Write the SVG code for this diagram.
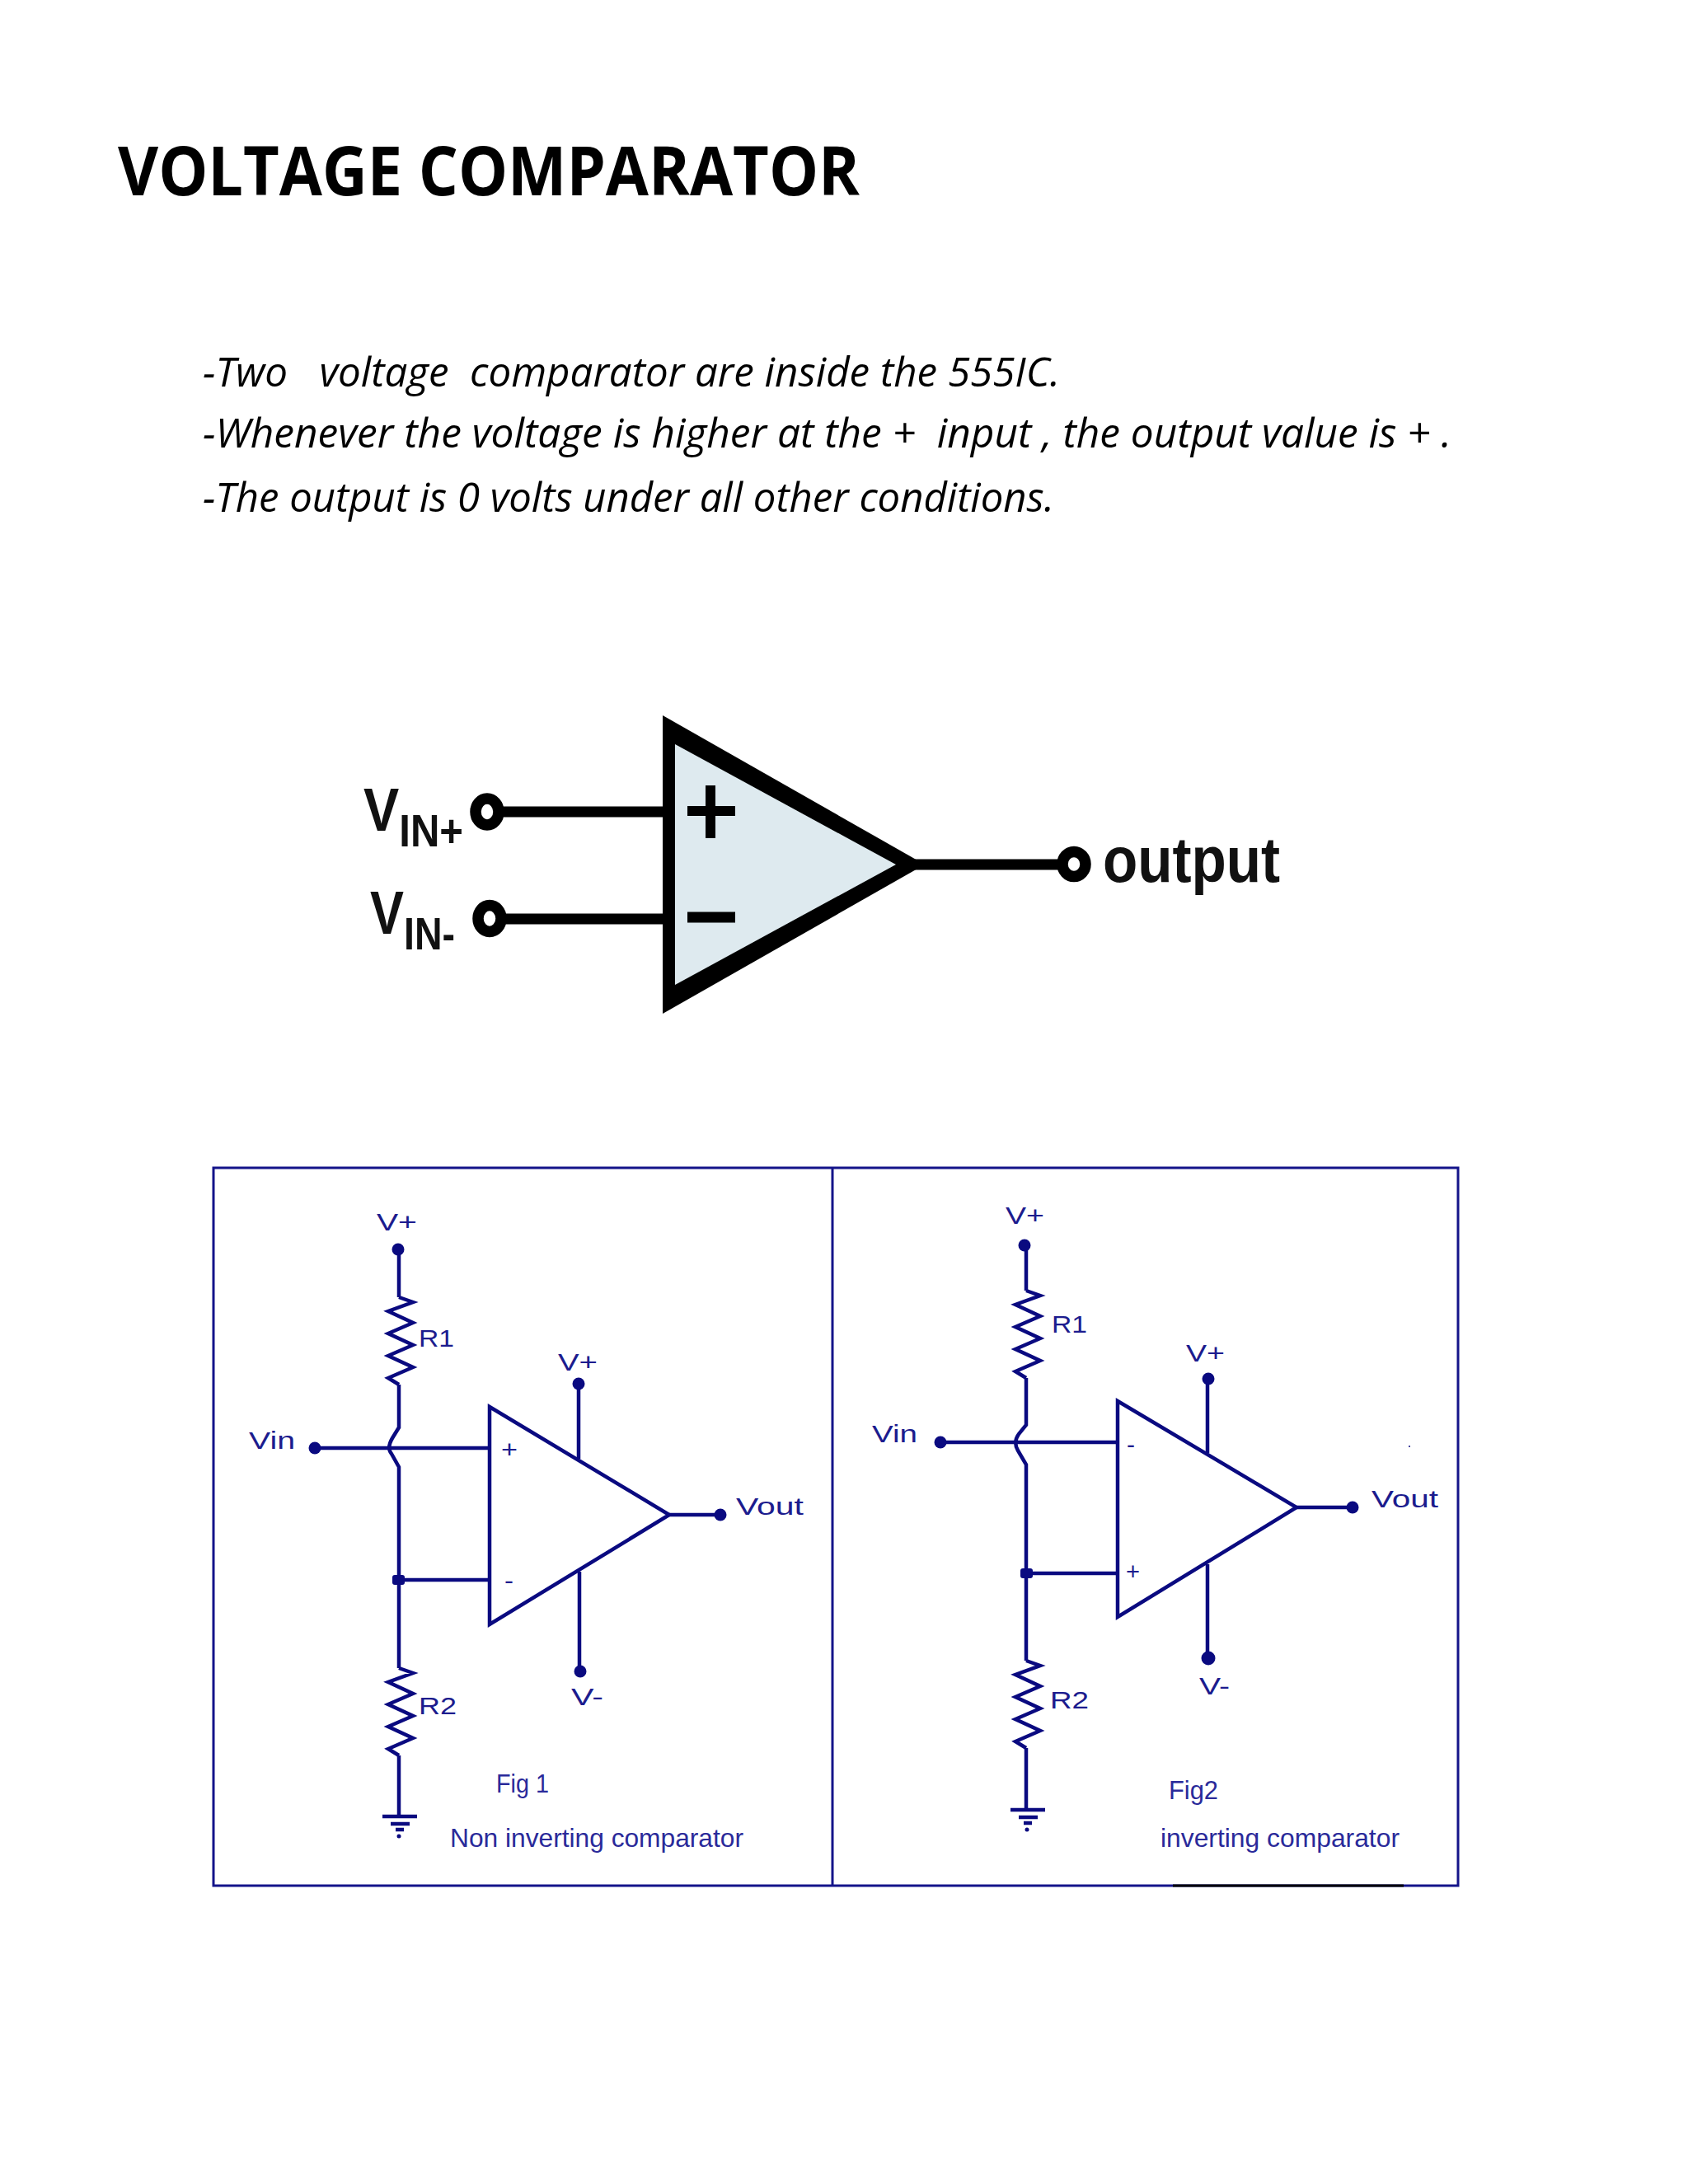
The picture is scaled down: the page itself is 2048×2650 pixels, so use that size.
<svg xmlns="http://www.w3.org/2000/svg" width="2048" height="2650" viewBox="0 0 2048 2650">
<style>
.title{font:700 83px "Open Sans",sans-serif;fill:#000}
.body{font:italic 400 49px "Open Sans",sans-serif;fill:#000;white-space:pre}
.big{font-family:"Liberation Sans",Arial,sans-serif;font-weight:700;fill:#111}
.lab{font:400 29px "Liberation Sans",Arial,sans-serif;fill:#1c1c8e}
.cap{font:400 32px "Liberation Sans",Arial,sans-serif;fill:#2a2a9a}
.w{fill:none;stroke:#0a0a80;stroke-width:4.5;stroke-linejoin:miter}
.t{fill:#fff;stroke:#0a0a80;stroke-width:4.5}
.d{fill:#0a0a80}
.b{fill:none;stroke:#000;stroke-width:13}
.ring{fill:#fff;stroke:#000;stroke-width:13.5}
.frame{fill:none;stroke:#14148a;stroke-width:3}
</style>
<defs>
<path id="res" class="w" d="M0,0 L17,6 L-13,17 L17,31 L-13,44 L17,58 L-13,71 L17,85 L-13,98 L0,106"/>
<g id="gnd"><path class="w" d="M-20,0 H22 M-10,9 H13 M-4,16 H6"/><circle class="d" cx="0" cy="24" r="2.5"/></g>
</defs>
<rect width="2048" height="2650" fill="#fff"/>
<g id="heading">
<text class="title" x="143" y="237" textLength="900" lengthAdjust="spacingAndGlyphs">VOLTAGE COMPARATOR</text>
<text class="body" x="246" y="469" textLength="1040" lengthAdjust="spacingAndGlyphs">-Two   voltage  comparator are inside the 555IC.</text>
<text class="body" x="246" y="543" textLength="1515" lengthAdjust="spacingAndGlyphs">-Whenever the voltage is higher at the +  input , the output value is + .</text>
<text class="body" x="246" y="621" textLength="1033" lengthAdjust="spacingAndGlyphs">-The output is 0 volts under all other conditions.</text>
</g>
<g id="comparator-connectors">
<path class="b" d="M600,985 H806 M604,1115 H806 M1100,1049 H1295"/>
</g>
<g id="comparator">
<polygon points="804,868 1122,1049 804,1230" fill="#000"/>
<polygon points="819,903 1087,1049 819,1195" fill="#deeaef"/>
<path d="M834,984 H892 M862,953 V1017" fill="none" stroke="#000" stroke-width="12"/>
<path d="M834,1113 H892" fill="none" stroke="#000" stroke-width="13"/>
<ellipse class="ring" cx="591" cy="985" rx="14" ry="16"/>
<ellipse class="ring" cx="594" cy="1114.5" rx="14" ry="16"/>
<ellipse class="ring" cx="1303" cy="1048.5" rx="14" ry="15"/>
<text class="big" x="441" y="1008" textLength="121" lengthAdjust="spacingAndGlyphs"><tspan font-size="74">V</tspan><tspan font-size="56" dy="19">IN+</tspan></text>
<text class="big" x="449" y="1133" textLength="103" lengthAdjust="spacingAndGlyphs"><tspan font-size="74">V</tspan><tspan font-size="56" dy="19">IN-</tspan></text>
<text class="big" font-size="77" x="1338" y="1070" textLength="215" lengthAdjust="spacingAndGlyphs">output</text>
</g>
<g id="frame">
<rect class="frame" x="259" y="1417" width="1510" height="871"/>
<path class="frame" d="M1010,1417 V2288"/>
<path d="M1423,2288 H1703" fill="none" stroke="#000" stroke-width="3"/>
</g>
<g id="connectors">
<path class="w" d="M484,1516 V1574 M484,1680 V1732 L476,1745 Q469,1757 475,1764 L484,1780 V2024 M484,2130 V2204"/>
<path class="w" d="M382,1757 H594 M484,1917 H594 M702,1679 V1770 M703,1907 V2028 M812,1838 H874"/>
<path class="w" d="M1245,1511 V1566 M1245,1672 V1729 L1236,1740 Q1229,1750 1235,1760 L1245,1777 V2015 M1245,2121 V2196"/>
<path class="w" d="M1141,1750 H1356 M1245,1909 H1356 M1465,1673 V1763 M1465,1898 V2012 M1573,1829 H1641"/>
</g>
<g id="fig1">
<use href="#res" x="484" y="1574"/>
<use href="#res" x="484" y="2024"/>
<use href="#gnd" x="484" y="2204"/>
<polygon class="t" points="594,1707 812,1838 594,1971"/>
<circle class="d" cx="483" cy="1516" r="7.5"/>
<circle class="d" cx="382" cy="1757" r="7.5"/>
<circle class="d" cx="702" cy="1679" r="7.5"/>
<circle class="d" cx="704" cy="2028" r="7.5"/>
<circle class="d" cx="874" cy="1838" r="7.5"/>
<rect class="d" x="476" y="1911" width="15" height="12" rx="3"/>
<text class="lab" x="457" y="1493" textLength="49" lengthAdjust="spacingAndGlyphs">V+</text>
<text class="lab" x="508" y="1634" textLength="43" lengthAdjust="spacingAndGlyphs">R1</text>
<text class="lab" x="677" y="1663" textLength="48" lengthAdjust="spacingAndGlyphs">V+</text>
<text class="lab" x="302" y="1758" textLength="56" lengthAdjust="spacingAndGlyphs">Vin</text>
<text class="lab" x="608" y="1769" textLength="20" lengthAdjust="spacingAndGlyphs">+</text>
<text class="lab" x="612" y="1928" textLength="11" lengthAdjust="spacingAndGlyphs">-</text>
<text class="lab" x="893" y="1838" textLength="82" lengthAdjust="spacingAndGlyphs">Vout</text>
<text class="lab" x="693" y="2069" textLength="39" lengthAdjust="spacingAndGlyphs">V-</text>
<text class="lab" x="508" y="2080" textLength="46" lengthAdjust="spacingAndGlyphs">R2</text>
<text class="cap" x="602" y="2175" textLength="64" lengthAdjust="spacingAndGlyphs">Fig 1</text>
<text class="cap" x="546" y="2241" textLength="356" lengthAdjust="spacingAndGlyphs">Non inverting comparator</text>
</g>
<g id="fig2">
<use href="#res" x="1245" y="1566"/>
<use href="#res" x="1245" y="2015"/>
<use href="#gnd" x="1246" y="2196"/>
<polygon class="t" points="1356,1700 1573,1829 1356,1962"/>
<circle class="d" cx="1243" cy="1511" r="7.5"/>
<circle class="d" cx="1141" cy="1750" r="7.5"/>
<circle class="d" cx="1466" cy="1673" r="7.5"/>
<circle class="d" cx="1466" cy="2012" r="8.5"/>
<circle class="d" cx="1641" cy="1829" r="7.5"/>
<rect class="d" x="1238" y="1903" width="15" height="12" rx="3"/>
<circle class="d" cx="1710" cy="1755" r="1"/>
<text class="lab" x="1220" y="1485" textLength="47" lengthAdjust="spacingAndGlyphs">V+</text>
<text class="lab" x="1276" y="1617" textLength="43" lengthAdjust="spacingAndGlyphs">R1</text>
<text class="lab" x="1439" y="1652" textLength="47" lengthAdjust="spacingAndGlyphs">V+</text>
<text class="lab" x="1058" y="1750" textLength="55" lengthAdjust="spacingAndGlyphs">Vin</text>
<text class="lab" x="1367" y="1763" textLength="10" lengthAdjust="spacingAndGlyphs">-</text>
<text class="lab" x="1366" y="1917" textLength="17" lengthAdjust="spacingAndGlyphs">+</text>
<text class="lab" x="1664" y="1829" textLength="81" lengthAdjust="spacingAndGlyphs">Vout</text>
<text class="lab" x="1455" y="2056" textLength="37" lengthAdjust="spacingAndGlyphs">V-</text>
<text class="lab" x="1274" y="2073" textLength="47" lengthAdjust="spacingAndGlyphs">R2</text>
<text class="cap" x="1418" y="2183" textLength="60" lengthAdjust="spacingAndGlyphs">Fig2</text>
<text class="cap" x="1408" y="2241" textLength="290" lengthAdjust="spacingAndGlyphs">inverting comparator</text>
</g>
</svg>
